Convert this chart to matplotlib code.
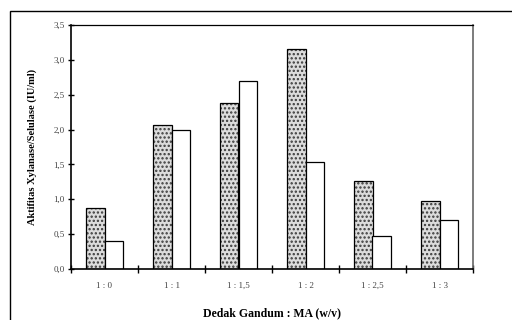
import numpy as np
import matplotlib.pyplot as plt
from matplotlib.patches import Rectangle

# data
kategori = ['1 : 0', '1 : 1', '1 : 1,5', '1 : 2', '1 : 2,5', '1 : 3']
xylanase = [0.87, 2.07, 2.38, 3.16, 1.26, 0.97]
selulase = [0.40, 2.00, 2.70, 1.53, 0.48, 0.70]
y_ticks = [0.0, 0.5, 1.0, 1.5, 2.0, 2.5, 3.0, 3.5]

plt.rcParams['font.family'] = ['Liberation Serif', 'DejaVu Serif']
plt.rcParams['hatch.linewidth'] = 1.1

fig = plt.figure(figsize=(5.12, 3.2), dpi=100)
ax = fig.add_axes([71/512, 51/320, 402/512, 244/320])

x = np.arange(len(kategori))
w = 0.283
# isi titik-titik abu-abu, lalu garis tepi hitam
ax.bar(x - w/2, xylanase, w, color='#dcdcdc', edgecolor='#3a3a3a',
       hatch='....', linewidth=0)
ax.bar(x - w/2, xylanase, w, fill=False, edgecolor='black', linewidth=0.9)
ax.bar(x + w/2, selulase, w, color='white', edgecolor='black', linewidth=0.9)

ax.set_xlim(-0.5, len(kategori) - 0.5)
ax.set_ylim(0, 3.5)
ax.set_yticks(y_ticks)
ax.set_yticklabels([f"{v:.1f}".replace('.', ',') for v in y_ticks],
                   fontsize=6.5, color='#444444')
ax.set_xticks(x)
ax.set_xticklabels(kategori, fontsize=6.5, color='#444444')
ax.tick_params(axis='x', length=0, pad=9)
ax.set_xticks(np.arange(len(kategori) + 1) - 0.5, minor=True)
ax.tick_params(axis='x', which='minor', length=6, direction='inout', width=1)
ax.tick_params(axis='y', length=5, width=1, pad=2, direction='inout')

for s in ['left', 'bottom']:
    ax.spines[s].set_linewidth(1.2)
ax.spines['top'].set_linewidth(0.9)
ax.spines['right'].set_linewidth(1.2)
ax.spines['right'].set_color('#666666')

ax.set_xlabel('Dedak Gandum : MA (w/v)', fontsize=8.5, fontweight='bold', labelpad=13)
ax.set_ylabel('Aktifitas Xylanase/Selulase (IU/ml)', fontsize=7.5,
              fontweight='bold', labelpad=12)

# bingkai luar
fig.patches.append(Rectangle((10/512, -0.1), 1.0, (320-11)/320 + 0.1,
                             transform=fig.transFigure, fill=False,
                             edgecolor='black', linewidth=1.0))

fig.savefig('out.png', dpi=100)
